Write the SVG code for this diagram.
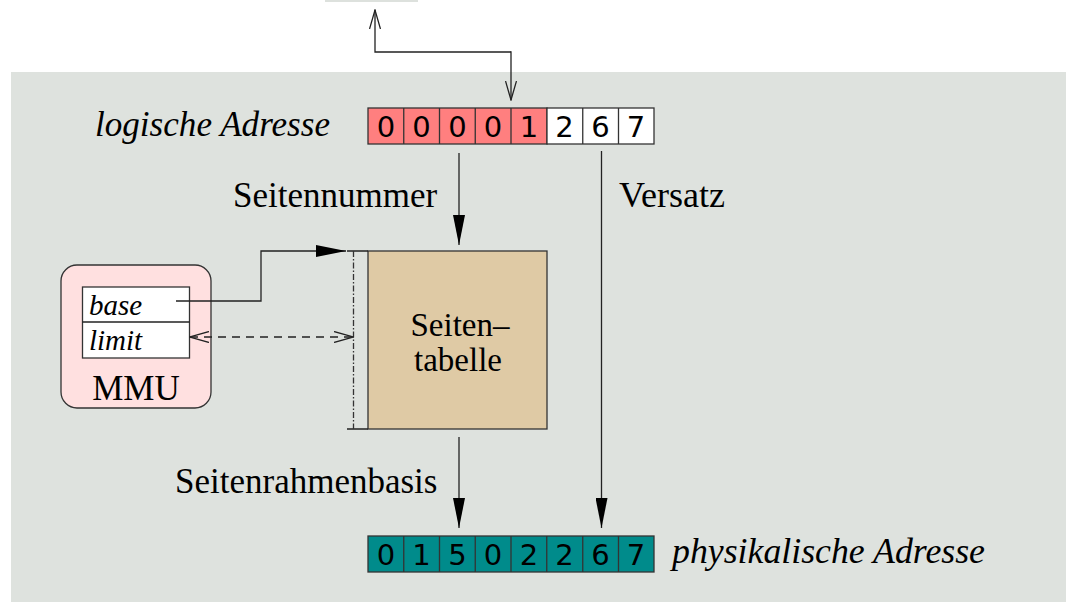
<svg xmlns="http://www.w3.org/2000/svg" width="1066" height="602" viewBox="0 0 1066 602">
<style>
.serif{font-family:"Liberation Serif","Times New Roman",serif;fill:#000}
.it{font-style:italic}
.dig{font-family:"DejaVu Sans","Liberation Sans",sans-serif;font-size:29px;text-anchor:middle;fill:#000}
.cell{stroke:#333;stroke-width:1.3}
.ln{fill:none;stroke:#222;stroke-width:1.3}
</style>
<defs>
<marker id="fa" viewBox="0 0 30 12" refX="30" refY="6" markerWidth="30" markerHeight="12" markerUnits="userSpaceOnUse" orient="auto">
<path d="M0,0 L30,6 L0,12 z" fill="#000"/>
</marker>
<marker id="open" viewBox="0 0 20 12" refX="19" refY="6" markerWidth="20" markerHeight="12" markerUnits="userSpaceOnUse" orient="auto">
<path d="M0,0.5 L19,6 L0,11.5" fill="none" stroke="#222" stroke-width="1.3"/>
</marker>
<marker id="openS" viewBox="0 0 20 12" refX="1" refY="6" markerWidth="20" markerHeight="12" markerUnits="userSpaceOnUse" orient="auto">
<path d="M20,0.5 L1,6 L20,11.5" fill="none" stroke="#222" stroke-width="1.3"/>
</marker>
</defs>
<rect x="325" y="0" width="93" height="2" fill="#dde1dd"/>
<rect x="11" y="72" width="1055" height="530" fill="#dee2de"/>

<g id="logische-adresse">
<rect class="cell" x="368" y="108" width="179" height="36" fill="#ff7f7f"/>
<rect class="cell" x="547" y="108" width="107" height="36" fill="#fff"/>
<path class="cell" d="M403.75,108V144M439.5,108V144M475.25,108V144M511,108V144M582.75,108V144M618.5,108V144"/>
<g class="dig">
<text x="386" y="137">0</text><text x="421.6" y="137">0</text><text x="457.4" y="137">0</text><text x="493.1" y="137">0</text><text x="528.9" y="137">1</text><text x="564.6" y="137">2</text><text x="600.4" y="137">6</text><text x="636.1" y="137">7</text>
</g>
<text class="serif it" x="95" y="136" font-size="35" textLength="235" lengthAdjust="spacingAndGlyphs">logische Adresse</text>
</g>

<g id="physikalische-adresse">
<rect class="cell" x="368" y="536" width="286" height="36" fill="#008b8b"/>
<path class="cell" d="M403.75,536V572M439.5,536V572M475.25,536V572M511,536V572M546.75,536V572M582.75,536V572M618.5,536V572"/>
<g class="dig">
<text x="386" y="565">0</text><text x="421.6" y="565">1</text><text x="457.4" y="565">5</text><text x="493.1" y="565">0</text><text x="528.9" y="565">2</text><text x="564.6" y="565">2</text><text x="600.4" y="565">6</text><text x="636.1" y="565">7</text>
</g>
<text class="serif it" x="672" y="563" font-size="35" textLength="313" lengthAdjust="spacingAndGlyphs">physikalische Adresse</text>
</g>

<g id="seitentabelle">
<rect x="368" y="251" width="179" height="178" fill="#dfcaa5" stroke="#333" stroke-width="1.3"/>
<path class="ln" d="M347,251H368M347,429H368"/>
<path d="M353.5,251V429" fill="none" stroke="#333" stroke-width="1.3" stroke-dasharray="6,2,1.5,2"/>
<text class="serif" x="460" y="336" font-size="33" text-anchor="middle">Seiten–</text>
<text class="serif" x="458" y="371" font-size="33" text-anchor="middle">tabelle</text>
</g>

<g id="mmu">
<rect x="61" y="265" width="150" height="143" rx="16" fill="#ffe0e0" stroke="#333" stroke-width="1.3"/>
<rect x="82.5" y="287" width="107" height="71" fill="#fff" stroke="#333" stroke-width="1.3"/>
<path class="ln" d="M82.5,322H189.5"/>
<text class="serif it" x="89" y="315" font-size="29">base</text>
<text class="serif it" x="89" y="350" font-size="29">limit</text>
<text class="serif" x="136" y="400" font-size="35" text-anchor="middle">MMU</text>
</g>

<g id="labels">
<text class="serif" x="233" y="207" font-size="35">Seitennummer</text>
<text class="serif" x="619" y="207" font-size="35" textLength="106" lengthAdjust="spacingAndGlyphs">Versatz</text>
<text class="serif" x="175" y="493" font-size="35">Seitenrahmenbasis</text>
</g>

<g id="connectors">
<polyline class="ln" points="511,52 375,52 375,10" marker-end="url(#open)"/>
<line class="ln" x1="511" y1="51.35" x2="511" y2="100" marker-end="url(#open)"/>
<line class="ln" x1="459" y1="153" x2="459" y2="245" marker-end="url(#fa)"/>
<line class="ln" x1="601.5" y1="151" x2="601.5" y2="528" marker-end="url(#fa)"/>
<line class="ln" x1="459" y1="437" x2="459" y2="528" marker-end="url(#fa)"/>
<polyline class="ln" points="176,301 261,301 261,251 346,251" marker-end="url(#fa)"/>
<line x1="190" y1="337" x2="353" y2="337" fill="none" stroke="#222" stroke-width="1.3" stroke-dasharray="8,6" marker-start="url(#openS)" marker-end="url(#open)"/>
</g>
</svg>
